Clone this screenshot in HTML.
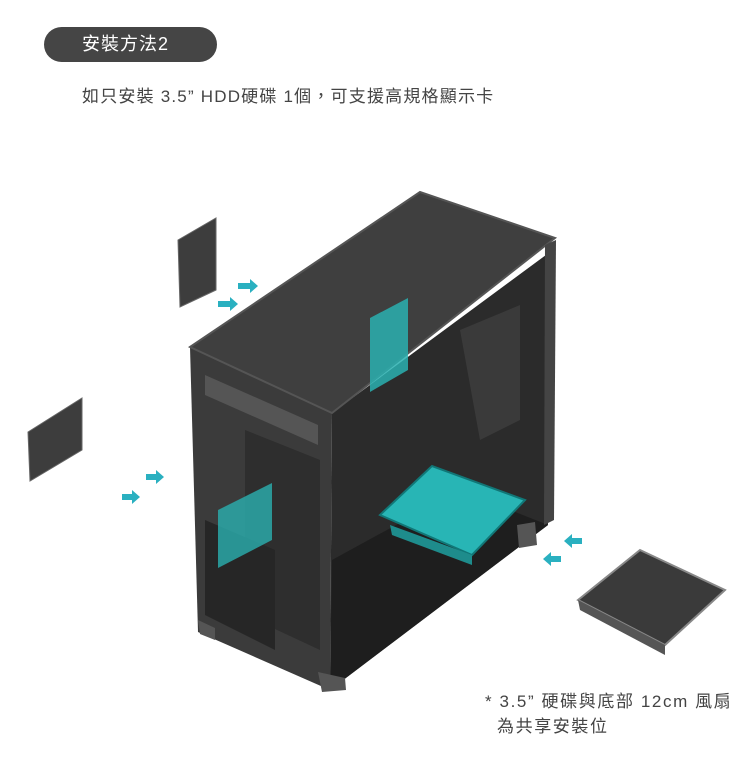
<!DOCTYPE html>
<html><head><meta charset="utf-8"><style>
body{margin:0;width:750px;height:763px;background:#fff;position:relative;overflow:hidden;font-family:"Liberation Sans","Noto Sans CJK TC",sans-serif;color:#333}
.pill{position:absolute;left:44px;top:27px;width:173px;height:35px;border-radius:18px;background:#454545;color:#fff;font-size:18px;line-height:35px;padding-left:38px;box-sizing:border-box;letter-spacing:1px}
.t{position:absolute;font-size:16px;color:#444;white-space:nowrap}
svg{position:absolute;left:0;top:0}
</style></head><body>
<svg width="750" height="763" viewBox="0 0 750 763">
<polygon points="332,413 550,252 548,525 330,690" fill="#2b2b2b"/>
<polygon points="332,560 460,490 548,525 330,690" fill="#1e1e1e"/>
<polygon points="460,330 520,305 520,420 480,440" fill="#3a3a3a"/>
<polygon points="190,347 332,413 330,690 198,632" fill="#3b3b3b"/>
<polygon points="205,375 318,425 318,445 205,395" fill="#555"/>
<polygon points="245,430 320,460 320,650 245,615" fill="#2e2e2e"/>
<polygon points="205,520 275,550 275,650 205,615" fill="#262626"/>
<polygon points="190,347 420,192 555,238 332,413" fill="#3f3f3f" stroke="#555" stroke-width="2"/>
<polygon points="545,245 556,240 554,520 544,525" fill="#444"/>
<polygon points="318,672 345,678 346,690 322,692" fill="#555"/>
<polygon points="517,525 535,522 537,545 519,548" fill="#555"/>
<polygon points="198,620 215,628 215,640 200,634" fill="#555"/>
<polygon points="370,318 408,298 408,370 370,392" fill="#2ab0b0" opacity=".85"/>
<polygon points="218,510 272,483 272,540 218,568" fill="#2ab0b0" opacity=".8"/>
<polygon points="380,515 432,466 525,500 472,555" fill="#28b5b5" stroke="#177" stroke-width="2"/>
<polygon points="390,525 472,555 472,565 392,535" fill="#1e8c8c"/>
<polygon points="178,240 216,218 216,290 180,307" fill="#3d3d3d" stroke="#666"/>
<polygon points="28,432 82,398 82,450 30,481" fill="#3d3d3d" stroke="#666"/>
<polygon points="578,600 640,550 725,590 665,645" fill="#3a3a3a" stroke="#888" stroke-width="2"/>
<polygon points="578,600 665,645 665,655 580,610" fill="#555"/>
<g fill="#2ab0c0">
<polygon points="238,283 250,283 250,279 258,286 250,293 250,289 238,289"/>
<polygon points="218,301 230,301 230,297 238,304 230,311 230,307 218,307"/>
<polygon points="146,474 156,474 156,470 164,477 156,484 156,480 146,480"/>
<polygon points="122,494 132,494 132,490 140,497 132,504 132,500 122,500"/>
<polygon points="582,538 572,538 572,534 564,541 572,548 572,544 582,544"/>
<polygon points="561,556 551,556 551,552 543,559 551,566 551,562 561,562"/>
</g>
</svg>
<div class="pill">安裝方法2</div>
<div class="t" style="left:82px;top:82px;font-size:17px;letter-spacing:1.2px">如只安裝 3.5”&nbsp;HDD硬碟 1個，可支援高規格顯示卡</div>
<div class="t" style="left:485px;top:687px;font-size:17px;letter-spacing:1.6px">* 3.5”&nbsp;硬碟與底部 12cm 風扇</div>
<div class="t" style="left:497px;top:712px;font-size:17px;letter-spacing:1.6px">為共享安裝位</div>
</body></html>
